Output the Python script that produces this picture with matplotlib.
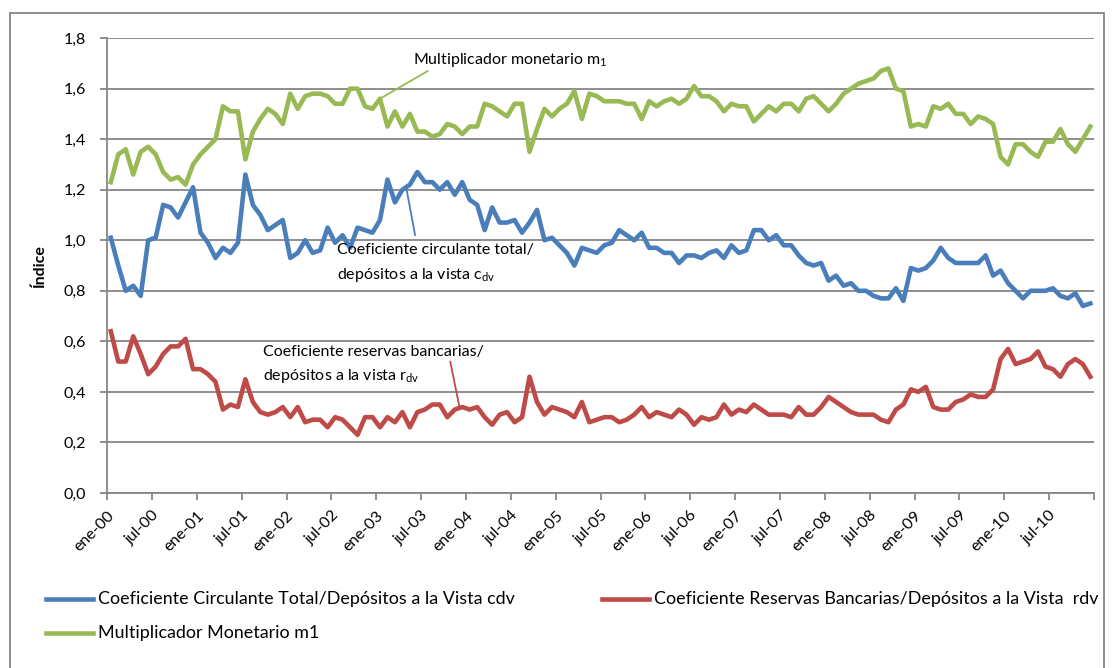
import matplotlib
matplotlib.use('Agg')
import numpy as np
import matplotlib.pyplot as plt
from matplotlib.lines import Line2D
from matplotlib.patches import Rectangle

plt.rcParams['font.family'] = ['Lato', 'DejaVu Sans']
plt.rcParams['mathtext.fontset'] = 'custom'
plt.rcParams['mathtext.rm'] = 'Lato'
plt.rcParams['mathtext.it'] = 'Lato:italic'

# monthly series, ene-00 .. dic-10
meses = ['ene', 'feb', 'mar', 'abr', 'may', 'jun', 'jul', 'ago', 'sep', 'oct', 'nov', 'dic']
anios = list(range(2000, 2011))
fechas = ['%s-%02d' % (m, a % 100) for a in anios for m in meses]

# coeficiente circulante total / depositos a la vista (cdv)
cdv = [1.01, 0.90, 0.80, 0.82, 0.78, 1.00, 1.01, 1.14, 1.13, 1.09, 1.15, 1.21,
       1.03, 0.99, 0.93, 0.97, 0.95, 0.99, 1.26, 1.14, 1.10, 1.04, 1.06, 1.08,
       0.93, 0.95, 1.00, 0.95, 0.96, 1.05, 0.99, 1.02, 0.97, 1.05, 1.04, 1.03,
       1.08, 1.24, 1.15, 1.20, 1.22, 1.27, 1.23, 1.23, 1.20, 1.23, 1.18, 1.23,
       1.16, 1.14, 1.04, 1.13, 1.07, 1.07, 1.08, 1.03, 1.07, 1.12, 1.00, 1.01,
       0.98, 0.95, 0.90, 0.97, 0.96, 0.95, 0.98, 0.99, 1.04, 1.02, 1.00, 1.03,
       0.97, 0.97, 0.95, 0.95, 0.91, 0.94, 0.94, 0.93, 0.95, 0.96, 0.93, 0.98,
       0.95, 0.96, 1.04, 1.04, 1.00, 1.02, 0.98, 0.98, 0.94, 0.91, 0.90, 0.91,
       0.84, 0.86, 0.82, 0.83, 0.80, 0.80, 0.78, 0.77, 0.77, 0.81, 0.76, 0.89,
       0.88, 0.89, 0.92, 0.97, 0.93, 0.91, 0.91, 0.91, 0.91, 0.94, 0.86, 0.88,
       0.83, 0.80, 0.77, 0.80, 0.80, 0.80, 0.81, 0.78, 0.77, 0.79, 0.74, 0.75]

# coeficiente reservas bancarias / depositos a la vista (rdv)
rdv = [0.64, 0.52, 0.52, 0.62, 0.55, 0.47, 0.50, 0.55, 0.58, 0.58, 0.61, 0.49,
       0.49, 0.47, 0.44, 0.33, 0.35, 0.34, 0.45, 0.36, 0.32, 0.31, 0.32, 0.34,
       0.30, 0.34, 0.28, 0.29, 0.29, 0.26, 0.30, 0.29, 0.26, 0.23, 0.30, 0.30,
       0.26, 0.30, 0.28, 0.32, 0.26, 0.32, 0.33, 0.35, 0.35, 0.30, 0.33, 0.34,
       0.33, 0.34, 0.30, 0.27, 0.31, 0.32, 0.28, 0.30, 0.46, 0.36, 0.31, 0.34,
       0.33, 0.32, 0.30, 0.36, 0.28, 0.29, 0.30, 0.30, 0.28, 0.29, 0.31, 0.34,
       0.30, 0.32, 0.31, 0.30, 0.33, 0.31, 0.27, 0.30, 0.29, 0.30, 0.35, 0.31,
       0.33, 0.32, 0.35, 0.33, 0.31, 0.31, 0.31, 0.30, 0.34, 0.31, 0.31, 0.34,
       0.38, 0.36, 0.34, 0.32, 0.31, 0.31, 0.31, 0.29, 0.28, 0.33, 0.35, 0.41,
       0.40, 0.42, 0.34, 0.33, 0.33, 0.36, 0.37, 0.39, 0.38, 0.38, 0.41, 0.53,
       0.57, 0.51, 0.52, 0.53, 0.56, 0.50, 0.49, 0.46, 0.51, 0.53, 0.51, 0.46]

# multiplicador monetario m1
m1 = [1.23, 1.34, 1.36, 1.26, 1.35, 1.37, 1.34, 1.27, 1.24, 1.25, 1.22, 1.30,
      1.34, 1.37, 1.40, 1.53, 1.51, 1.51, 1.32, 1.43, 1.48, 1.52, 1.50, 1.46,
      1.58, 1.52, 1.57, 1.58, 1.58, 1.57, 1.54, 1.54, 1.60, 1.60, 1.53, 1.52,
      1.56, 1.45, 1.51, 1.45, 1.50, 1.43, 1.43, 1.41, 1.42, 1.46, 1.45, 1.42,
      1.45, 1.45, 1.54, 1.53, 1.51, 1.49, 1.54, 1.54, 1.35, 1.44, 1.52, 1.49,
      1.52, 1.54, 1.59, 1.48, 1.58, 1.57, 1.55, 1.55, 1.55, 1.54, 1.54, 1.48,
      1.55, 1.53, 1.55, 1.56, 1.54, 1.56, 1.61, 1.57, 1.57, 1.55, 1.51, 1.54,
      1.53, 1.53, 1.47, 1.50, 1.53, 1.51, 1.54, 1.54, 1.51, 1.56, 1.57, 1.54,
      1.51, 1.54, 1.58, 1.60, 1.62, 1.63, 1.64, 1.67, 1.68, 1.60, 1.59, 1.45,
      1.46, 1.45, 1.53, 1.52, 1.54, 1.50, 1.50, 1.46, 1.49, 1.48, 1.46, 1.33,
      1.30, 1.38, 1.38, 1.35, 1.33, 1.39, 1.39, 1.44, 1.38, 1.35, 1.40, 1.45]

azul = '#4A7EBB'
rojo = '#BE4B48'
verde = '#98B954'
gris = '#868686'

x = np.arange(len(fechas))

fig = plt.figure(figsize=(11.14, 6.68), dpi=100)
ax = fig.add_axes([0.0961, 0.262, 0.886, 0.681])

ax.plot(x, cdv, color=azul, lw=3.3, solid_joinstyle='round', zorder=3)
ax.plot(x, rdv, color=rojo, lw=3.3, solid_joinstyle='round', zorder=3)
ax.plot(x, m1, color=verde, lw=3.3, solid_joinstyle='round', zorder=3)

ax.set_xlim(-0.5, len(fechas) - 0.5)
ax.set_ylim(0, 1.8)
yt = np.arange(0, 1.81, 0.2)
ax.set_yticks(yt)
ax.set_yticklabels([('%.1f' % v).replace('.', ',') for v in yt], fontsize=11.5)
ax.yaxis.grid(True, color=gris, lw=1.3)
ax.set_axisbelow(True)

# a tick every six months, the closing tick (ene-11) has no label
xt = np.arange(-0.5, len(fechas), 6)
etiquetas = [fechas[int(t + 0.5)] if t + 0.5 < len(fechas) else '' for t in xt]
ax.set_xticks(xt)
ax.set_xticklabels(etiquetas, rotation=45, ha='right', rotation_mode='anchor', fontsize=11.5)
ax.tick_params(axis='x', direction='out', length=5, color=gris, width=1.3, pad=6)
ax.tick_params(axis='y', direction='out', length=5, color=gris, width=1.3, pad=10)

for s in ['top', 'right']:
    ax.spines[s].set_visible(False)
for s in ['left', 'bottom']:
    ax.spines[s].set_color(gris)
    ax.spines[s].set_linewidth(1.3)

ax.set_ylabel('Índice', fontsize=11.5, fontweight='bold', labelpad=12)

# callouts
ax.text(40.4, 1.713, 'Multiplicador monetario m$_\\mathrm{1}$', fontsize=11.5, va='center')
ax.annotate('', xy=(36, 1.56), xytext=(42.4, 1.67),
            arrowprops=dict(arrowstyle='-', color=verde, lw=1.3, shrinkA=0, shrinkB=0))

ax.text(30.2, 0.99, 'Coeficiente circulante total/\ndepósitos a la vista c$_\\mathrm{dv}$',
        fontsize=11.5, va='top', linespacing=1.7)
ax.annotate('', xy=(39.5, 1.21), xytext=(40.7, 1.02),
            arrowprops=dict(arrowstyle='-', color=azul, lw=1.3, shrinkA=0, shrinkB=0))

ax.text(20.3, 0.585, 'Coeficiente reservas bancarias/\ndepósitos a la vista r$_\\mathrm{dv}$',
        fontsize=11.5, va='top', linespacing=1.6)
ax.annotate('', xy=(46.6, 0.344), xytext=(45.4, 0.52),
            arrowprops=dict(arrowstyle='-', color=rojo, lw=1.3, shrinkA=0, shrinkB=0))

# legend below the chart
W, H = 1114.0, 668.0
entradas = [(azul, 'Coeficiente Circulante Total/Depósitos a la Vista cdv', 46, 599),
            (rojo, 'Coeficiente Reservas Bancarias/Depósitos a la Vista  rdv', 602, 599),
            (verde, 'Multiplicador Monetario m1', 46, 633)]
for col, txt, px, py in entradas:
    fig.add_artist(Line2D([px / W, (px + 47) / W], [1 - py / H, 1 - py / H],
                          color=col, lw=3.3, transform=fig.transFigure))
    fig.text((px + 52) / W, 1 - py / H, txt, fontsize=12.9, va='center')

fig.add_artist(Rectangle((10 / W, -0.01), 1094 / W, 1.01 - 13 / H,
                         transform=fig.transFigure, fill=False, edgecolor=gris, lw=1.3))

fig.savefig('out.png', dpi=100)
